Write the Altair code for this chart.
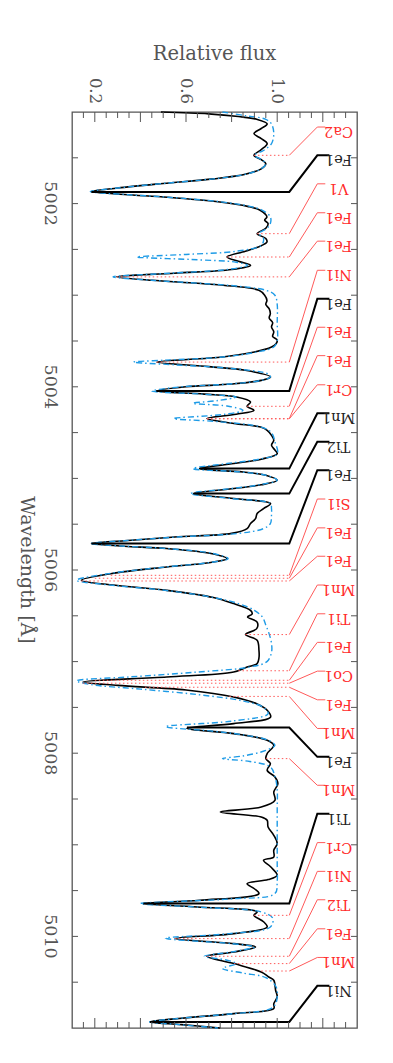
import altair as alt
import pandas as pd

# ---------------- observed spectrum (black) ----------------
obs_wl = [5001.00, 5001.02, 5001.05, 5001.08, 5001.13, 5001.18, 5001.236, 5001.29, 5001.345, 5001.41,
          5001.473, 5001.52, 5001.563, 5001.62, 5001.68, 5001.73, 5001.78, 5001.83, 5001.868, 5001.90,
          5001.93, 5001.98, 5002.03, 5002.073, 5002.146, 5002.18, 5002.218, 5002.27, 5002.328, 5002.38,
          5002.42, 5002.46, 5002.52, 5002.583, 5002.63, 5002.674, 5002.72, 5002.76, 5002.80, 5002.837,
          5002.87, 5002.90, 5002.946, 5003.00, 5003.056, 5003.10, 5003.15, 5003.20, 5003.25, 5003.30,
          5003.347, 5003.40, 5003.45, 5003.49, 5003.53, 5003.565, 5003.62, 5003.675, 5003.73, 5003.78,
          5003.82, 5003.893, 5003.93, 5003.97, 5004.00, 5004.046, 5004.08, 5004.111, 5004.166, 5004.213,
          5004.257, 5004.30, 5004.347, 5004.40, 5004.44, 5004.475, 5004.53, 5004.584, 5004.638, 5004.69,
          5004.73, 5004.79, 5004.838, 5004.893, 5004.93, 5004.966, 5005.02, 5005.07, 5005.111, 5005.166,
          5005.22, 5005.275, 5005.33, 5005.384, 5005.44, 5005.493, 5005.548, 5005.60, 5005.64, 5005.68,
          5005.712, 5005.74, 5005.766, 5005.82, 5005.876, 5005.92, 5005.967, 5006.04, 5006.112, 5006.17,
          5006.222, 5006.30, 5006.367, 5006.44, 5006.48, 5006.513, 5006.568, 5006.64, 5006.705, 5006.767,
          5006.877, 5006.96, 5007.022, 5007.059, 5007.114, 5007.168, 5007.223, 5007.26, 5007.31, 5007.386,
          5007.46, 5007.531, 5007.605, 5007.677, 5007.73, 5007.786, 5007.858, 5007.913, 5008.004, 5008.059,
          5008.114, 5008.186, 5008.26, 5008.332, 5008.423, 5008.514, 5008.587, 5008.642, 5008.697, 5008.732,
          5008.806, 5008.896, 5008.987, 5009.06, 5009.133, 5009.169, 5009.24, 5009.333, 5009.38, 5009.424,
          5009.48, 5009.533, 5009.606, 5009.642, 5009.679, 5009.733, 5009.77, 5009.84, 5009.897, 5009.97,
          5010.024, 5010.079, 5010.115, 5010.17, 5010.217, 5010.297, 5010.389, 5010.443, 5010.479, 5010.588,
          5010.661, 5010.734, 5010.788, 5010.843, 5010.90, 5010.934, 5010.963, 5011.00]
obs_flux = [0.49, 0.70, 0.83, 0.91, 0.956, 0.93, 0.898, 0.93, 0.956, 0.93,
            0.898, 0.93, 0.95, 0.93, 0.86, 0.72, 0.50, 0.30, 0.185, 0.33,
            0.52, 0.74, 0.87, 0.925, 0.955, 0.945, 0.96, 0.95, 0.912, 0.95,
            0.955, 0.93, 0.86, 0.78, 0.83, 0.883, 0.80, 0.55, 0.296, 0.45,
            0.65, 0.80, 0.92, 0.945, 0.955, 0.95, 0.965, 0.97, 0.965, 0.98,
            0.975, 0.985, 0.98, 1.0, 0.995, 0.975, 0.90, 0.76, 0.472, 0.70,
            0.86, 0.971, 0.93, 0.80, 0.60, 0.47, 0.68, 0.82, 0.883, 0.868,
            0.898, 0.82, 0.692, 0.81, 0.927, 0.956, 0.975, 0.985, 0.975, 0.99,
            1.0, 0.93, 0.81, 0.66, 0.85, 0.95, 1.0, 0.93, 0.81, 0.633,
            0.81, 0.971, 0.94, 0.912, 0.905, 0.883, 0.868, 0.80, 0.55, 0.33,
            0.185, 0.33, 0.516, 0.71, 0.78, 0.70, 0.516, 0.27, 0.141, 0.30,
            0.516, 0.72, 0.809, 0.883, 0.89, 0.87, 0.912, 0.91, 0.861, 0.912,
            0.92, 0.92, 0.912, 0.868, 0.809, 0.516, 0.148, 0.30, 0.60, 0.809,
            0.91, 0.956, 0.971, 0.809, 0.604, 0.809, 0.956, 0.985, 0.956, 0.95,
            0.97, 0.956, 0.99, 1.003, 0.985, 0.99, 0.93, 0.751, 0.93, 0.956,
            0.96, 0.985, 1.0, 0.985, 0.985, 0.94, 0.971, 1.0, 0.96, 0.868,
            0.90, 0.92, 0.66, 0.413, 0.65, 0.912, 0.898, 0.94, 0.956, 0.81,
            0.552, 0.81, 0.905, 0.81, 0.692, 0.81, 0.93, 0.963, 0.985, 0.993,
            1.0, 0.985, 0.985, 0.81, 0.55, 0.442, 0.58, 0.75]

# ---------------- synthetic spectrum (blue dash-dot) ----------------
mod_wl = [5001.00, 5001.04, 5001.08, 5001.13, 5001.236, 5001.345, 5001.42, 5001.473, 5001.52, 5001.563,
          5001.62, 5001.68, 5001.73, 5001.78, 5001.83, 5001.868, 5001.90, 5001.93, 5001.98, 5002.03,
          5002.073, 5002.146, 5002.218, 5002.27, 5002.328, 5002.38, 5002.455, 5002.52, 5002.555, 5002.583,
          5002.61, 5002.64, 5002.674, 5002.72, 5002.76, 5002.80, 5002.837, 5002.87, 5002.90, 5002.946,
          5003.00, 5003.10, 5003.30, 5003.50, 5003.565, 5003.62, 5003.675, 5003.71, 5003.73, 5003.76,
          5003.80, 5003.86, 5003.893, 5003.93, 5003.97, 5004.00, 5004.046, 5004.08, 5004.111, 5004.15,
          5004.18, 5004.21, 5004.257, 5004.30, 5004.347, 5004.38, 5004.44, 5004.50, 5004.60, 5004.73,
          5004.79, 5004.838, 5004.893, 5004.93, 5004.966, 5005.02, 5005.07, 5005.111, 5005.166, 5005.22,
          5005.275, 5005.33, 5005.40, 5005.493, 5005.548, 5005.60, 5005.64, 5005.68, 5005.712, 5005.74,
          5005.766, 5005.82, 5005.876, 5005.92, 5005.967, 5006.04, 5006.112, 5006.17, 5006.222, 5006.30,
          5006.367, 5006.44, 5006.513, 5006.60, 5006.70, 5006.80, 5006.90, 5007.00, 5007.059, 5007.114,
          5007.168, 5007.21, 5007.25, 5007.30, 5007.36, 5007.43, 5007.50, 5007.57, 5007.65, 5007.71,
          5007.76, 5007.80, 5007.858, 5007.913, 5007.97, 5008.03, 5008.059, 5008.09, 5008.15, 5008.25,
          5008.40, 5008.60, 5008.80, 5009.00, 5009.20, 5009.40, 5009.533, 5009.59, 5009.642, 5009.68,
          5009.733, 5009.80, 5009.897, 5009.97, 5010.02, 5010.079, 5010.115, 5010.17, 5010.217, 5010.26,
          5010.297, 5010.35, 5010.40, 5010.45, 5010.55, 5010.66, 5010.75, 5010.80, 5010.843, 5010.90,
          5010.934, 5010.963, 5011.00]
mod_flux = [0.76, 0.86, 0.95, 0.975, 0.985, 0.975, 0.94, 0.90, 0.93, 0.95,
            0.93, 0.86, 0.72, 0.50, 0.30, 0.18, 0.33, 0.52, 0.75, 0.88,
            0.935, 0.97, 0.97, 0.955, 0.92, 0.94, 0.93, 0.82, 0.60, 0.384,
            0.62, 0.82, 0.87, 0.78, 0.53, 0.28, 0.45, 0.66, 0.82, 0.95,
            0.99, 1.0, 1.0, 1.0, 0.985, 0.91, 0.76, 0.50, 0.37, 0.55,
            0.80, 0.96, 0.97, 0.93, 0.79, 0.58, 0.45, 0.67, 0.82, 0.74,
            0.63, 0.78, 0.85, 0.77, 0.546, 0.74, 0.93, 0.975, 0.99, 1.0,
            0.92, 0.78, 0.63, 0.84, 0.95, 1.0, 0.92, 0.80, 0.62, 0.80,
            0.97, 0.975, 0.975, 0.97, 0.94, 0.83, 0.56, 0.33, 0.18, 0.33,
            0.52, 0.72, 0.785, 0.70, 0.51, 0.26, 0.12, 0.29, 0.51, 0.72,
            0.83, 0.90, 0.935, 0.95, 0.965, 0.975, 0.975, 0.955, 0.88, 0.65,
            0.35, 0.12, 0.18, 0.40, 0.65, 0.85, 0.94, 0.96, 0.80, 0.51,
            0.72, 0.85, 0.96, 0.99, 0.95, 0.85, 0.76, 0.88, 0.97, 0.99,
            1.0, 1.0, 1.0, 1.0, 1.0, 1.0, 0.99, 0.80, 0.40, 0.65,
            0.93, 0.98, 0.97, 0.79, 0.51, 0.80, 0.90, 0.80, 0.68, 0.78,
            0.82, 0.76, 0.85, 0.95, 0.995, 1.0, 0.99, 0.96, 0.81, 0.55,
            0.44, 0.57, 0.74]

# ---------------- line identifications ----------------
id_text = ["Ca2", "Fe1", "V1", "Fe1", "Fe1", "Ni1", "Fe1", "Fe1", "Fe1", "Cr1",
           "Mn1", "Ti2", "Fe1", "Si1", "Fe1", "Fe1", "Mn1", "Ti1", "Fe1", "Co1",
           "Fe1", "Mn1", "Fe1", "Mn1", "Ti1", "Cr1", "Ni1", "Ti2", "Fe1", "Mn1", "Ni1"]
id_strong = [False, True, False, False, False, False, True, False, False, False,
             True, True, True, False, False, False, False, False, False, False,
             False, False, True, False, True, False, False, False, False, False, True]
id_wl = [5001.473, 5001.873, 5002.328, 5002.583, 5002.800, 5003.730, 5004.046, 5004.213, 5004.347, 5004.350,
         5004.893, 5005.166, 5005.712, 5006.058, 5006.090, 5006.120, 5006.705, 5007.100, 5007.204, 5007.236,
         5007.280, 5007.380, 5007.720, 5008.059, 5009.642, 5009.770, 5010.024, 5010.217, 5010.297, 5010.378, 5010.934]
id_start = [0.898, 0.185, 0.912, 0.78, 0.296, 0.472, 0.47, 0.868, 0.692, 0.692,
            0.66, 0.633, 0.185, 0.27, 0.20, 0.141, 0.861, 0.83, 0.20, 0.148,
            0.42, 0.79, 0.604, 0.95, 0.413, 0.898, 0.552, 0.692, 0.81, 0.93, 0.442]
id_label_wl = [5001.164, 5001.473, 5001.784, 5002.100, 5002.410, 5002.728, 5003.040, 5003.350, 5003.660, 5003.978,
               5004.290, 5004.600, 5004.910, 5005.225, 5005.540, 5005.850, 5006.164, 5006.478, 5006.790, 5007.104,
               5007.417, 5007.730, 5008.040, 5008.350, 5008.660, 5008.976, 5009.290, 5009.600, 5009.917, 5010.230, 5010.540]

# ---------------- axes ----------------
flux_major = [0.2, 0.4, 0.6, 0.8, 1.0, 1.2]
flux_minor = [0.15, 0.25, 0.3, 0.35, 0.45, 0.5, 0.55, 0.65, 0.7, 0.75, 0.85, 0.9, 0.95,
              1.05, 1.1, 1.15, 1.25, 1.3]
flux_labels = [0.2, 0.6, 1.0]
flux_label_text = ["0.2", "0.6", "1.0"]
wl_ticks = [5001.5, 5002.0, 5002.5, 5003.0, 5003.5, 5004.0, 5004.5, 5005.0, 5005.5, 5006.0,
            5006.5, 5007.0, 5007.5, 5008.0, 5008.5, 5009.0, 5009.5, 5010.0, 5010.5]
wl_labels = [5002, 5004, 5006, 5008, 5010]

W, H = 285, 916
FONT = "DejaVu Serif"
GREY = "#555555"
RED_TXT = "#ff2a2a"
RED_LN = "#ff5a5a"

xs = alt.Scale(domain=[0.1, 1.35], nice=False, zero=False)
ys = alt.Scale(domain=[5001, 5011], reverse=True, nice=False, zero=False)


def X(f="flux"):
    return alt.X(f"{f}:Q", scale=xs, axis=None)


def Y(f="wl"):
    return alt.Y(f"{f}:Q", scale=ys, axis=None)


obs = pd.DataFrame({"wl": obs_wl, "flux": obs_flux})
mod = pd.DataFrame({"wl": mod_wl, "flux": mod_flux})

# leader geometry (layout constants in flux units)
F_END, F_KNEE, F_RED_TAIL, F_BLK_TAIL, F_TEXT = 1.053, 1.176, 1.211, 1.229, 1.269
dotted_rows, red_rows, blk_rows = [], [], []
for i, (strong, wl, st, lab) in enumerate(zip(id_strong, id_wl, id_start, id_label_wl)):
    if strong:
        pts = [(st, wl), (F_END, wl), (F_KNEE, lab), (F_BLK_TAIL, lab)]
        for o, (f, w) in enumerate(pts):
            blk_rows.append({"id": i, "o": o, "flux": f, "wl": w})
    else:
        for o, (f, w) in enumerate([(st, wl), (F_END, wl)]):
            dotted_rows.append({"id": i, "o": o, "flux": f, "wl": w})
        for o, (f, w) in enumerate([(F_END, wl), (F_KNEE, lab), (F_RED_TAIL, lab)]):
            red_rows.append({"id": i, "o": o, "flux": f, "wl": w})

labels = pd.DataFrame({"text": id_text, "wl": id_label_wl,
                       "strong": id_strong, "flux": [F_TEXT] * len(id_text)})

layers = []

# spectra
layers.append(alt.Chart(obs).mark_line(color="black", strokeWidth=1.6, interpolate="catmull-rom")
              .encode(x=X(), y=Y(), order="wl:Q"))
layers.append(alt.Chart(mod).mark_line(color="#1e9be6", strokeWidth=1.4, strokeDash=[6, 3, 1.5, 3],
                                       interpolate="catmull-rom")
              .encode(x=X(), y=Y(), order="wl:Q"))

# leaders
layers.append(alt.Chart(pd.DataFrame(dotted_rows)).mark_line(color=RED_LN, strokeWidth=1, strokeDash=[1.5, 2.5])
              .encode(x=X(), y=Y(), detail="id:N", order="o:Q"))
layers.append(alt.Chart(pd.DataFrame(red_rows)).mark_line(color=RED_LN, strokeWidth=1)
              .encode(x=X(), y=Y(), detail="id:N", order="o:Q"))
layers.append(alt.Chart(pd.DataFrame(blk_rows)).mark_line(color="black", strokeWidth=2)
              .encode(x=X(), y=Y(), detail="id:N", order="o:Q"))

# label texts (upside down)
layers.append(alt.Chart(labels).mark_text(angle=180, align="center", baseline="alphabetic",
                                          font=FONT, fontSize=14.5)
              .encode(x=X(), y=Y(), text="text:N",
                      color=alt.Color("strong:N", scale=alt.Scale(domain=[False, True], range=[RED_TXT, "#222222"]),
                                      legend=None)))

# ticks
fmaj = pd.DataFrame({"flux": flux_major})
fmin = pd.DataFrame({"flux": flux_minor})
wt = pd.DataFrame({"wl": wl_ticks})
for df, ln in ((fmaj, 10), (fmin, 6)):
    layers.append(alt.Chart(df).mark_rule(color=GREY, strokeWidth=1)
                  .encode(x=X(), y=alt.value(0), y2=alt.value(ln)))
    layers.append(alt.Chart(df).mark_rule(color=GREY, strokeWidth=1)
                  .encode(x=X(), y=alt.value(H), y2=alt.value(H - ln)))
layers.append(alt.Chart(wt).mark_rule(color=GREY, strokeWidth=1)
              .encode(y=Y(), x=alt.value(0), x2=alt.value(6)))
layers.append(alt.Chart(wt).mark_rule(color=GREY, strokeWidth=1)
              .encode(y=Y(), x=alt.value(W), x2=alt.value(W - 6)))

# tick labels
fl = pd.DataFrame({"flux": flux_labels, "t": flux_label_text})
layers.append(alt.Chart(fl).mark_text(angle=90, align="center", baseline="middle", font=FONT,
                                      fontSize=16.5, color=GREY)
              .encode(x=X(), y=alt.value(-21), text="t:N"))
wl_df = pd.DataFrame({"wl": wl_labels, "t": [str(v) for v in wl_labels]})
layers.append(alt.Chart(wl_df).mark_text(angle=90, align="center", baseline="middle", font=FONT,
                                         fontSize=17.5, color=GREY)
              .encode(y=Y(), x=alt.value(-22), text="t:N"))

# axis titles
layers.append(alt.Chart(pd.DataFrame({"t": ["Relative flux"]})).mark_text(
    align="center", baseline="middle", font=FONT, fontSize=19.5, color=GREY)
    .encode(x=alt.value(W / 2), y=alt.value(-58), text="t:N"))
layers.append(alt.Chart(pd.DataFrame({"t": ["Wavelength [Å]"]})).mark_text(
    angle=90, align="center", baseline="middle", font=FONT, fontSize=19, color=GREY)
    .encode(x=alt.value(-45), y=alt.value(H / 2), text="t:N"))

chart = (alt.layer(*layers)
         .properties(width=W, height=H,
                     padding={"left": 64, "top": 104, "right": 28, "bottom": 27},
                     autosize=alt.AutoSizeParams(type="none"))
         .configure_view(stroke=GREY, strokeWidth=1.3))

chart.save("out.html", embed_options={"renderer": "svg", "actions": False})
